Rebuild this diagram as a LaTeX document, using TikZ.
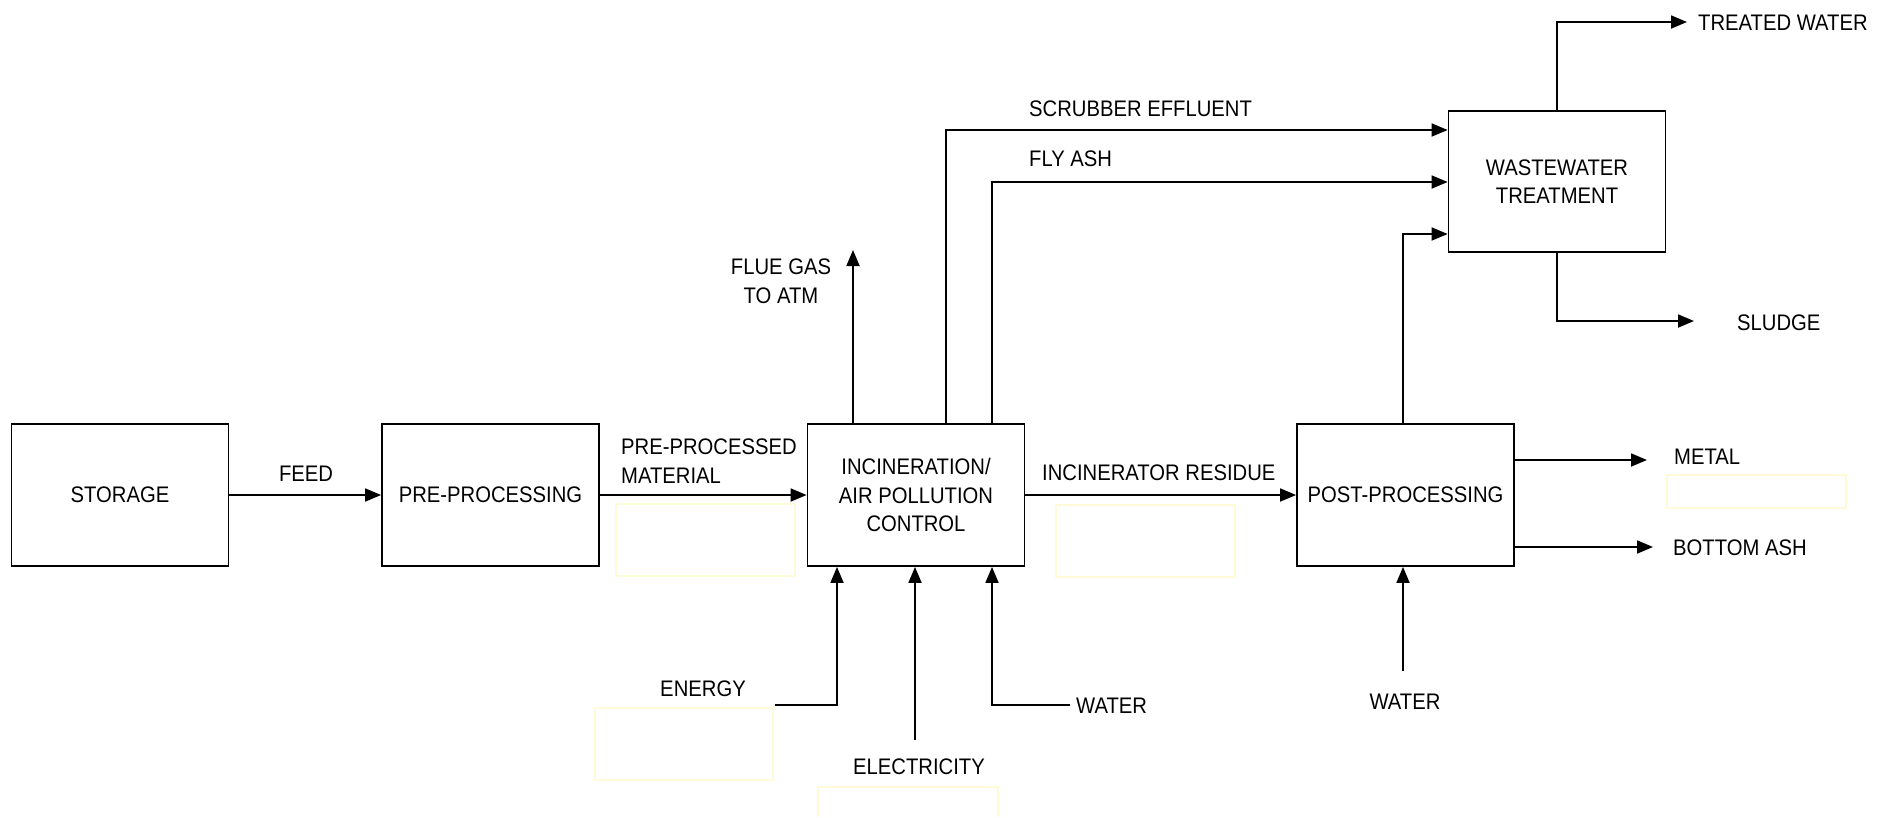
\documentclass[tikz,border=0pt]{standalone}
\usepackage{fontspec}
\setmainfont{Liberation Sans}[FakeStretch=0.9]
\usetikzlibrary{arrows.meta}
\definecolor{ghostyellow}{RGB}{255,250,215}
\tikzset{
  procbox/.style={draw, line width=1.8pt, minimum width=217pt, minimum height=142pt, inner sep=0pt, align=center},
  flow/.style={-{Triangle[length=16pt,width=13pt]}, line width=1.8pt},
  lbl/.style={inner sep=0pt, align=left},
  ghost/.style={draw=ghostyellow, line width=2.2pt}
}
\begin{document}
\begin{tikzpicture}[x=1pt,y=-1pt,font=\fontsize{22.5}{28.5}\selectfont]
\useasboundingbox (0,0) rectangle (1879,817);
% boxes
\node[procbox] (storage) at (120,495) {STORAGE};
\node[procbox] (pre) at (490.5,495) {PRE-PROCESSING};
\node[procbox] (inc) at (916,495) {INCINERATION/\\AIR POLLUTION\\CONTROL};
\node[procbox] (post) at (1405.5,495) {POST-PROCESSING};
\node[procbox, minimum height=141pt] (ww) at (1557,181.5) {WASTEWATER\\TREATMENT};
% free ends
\coordinate (flue) at (853,250);
\coordinate (scx) at (946,130);
\coordinate (fax) at (992,182);
\coordinate (pwx) at (1403,234);
\coordinate (tw) at (1687,22);
\coordinate (sl) at (1694,321);
\coordinate (me) at (1647,460);
\coordinate (ba) at (1653,547);
\coordinate (pw) at (1403,671);
\coordinate (en) at (775,705);
\coordinate (enx) at (837,705);
\coordinate (el) at (915,740);
\coordinate (wa) at (1070,705);
\coordinate (wax) at (992,705);
% connectors
\draw[flow] (storage) -- (pre);
\draw[flow] (pre) -- (inc);
\draw[flow] (inc) -- (post);
\draw[flow] (inc.north -| flue) -- (flue);
\draw[flow] (inc.north -| scx) |- (ww.west |- scx);
\draw[flow] (inc.north -| fax) |- (ww.west |- fax);
\draw[flow] (post.north -| pwx) |- (ww.west |- pwx);
\draw[flow] (ww.north) |- (tw);
\draw[flow] (ww.south) |- (sl);
\draw[flow] (post.east |- me) -- (me);
\draw[flow] (post.east |- ba) -- (ba);
\draw[flow] (pw) -- (post.south -| pw);
\draw[flow] (en) -- (enx) -- (inc.south -| enx);
\draw[flow] (el) -- (inc.south -| el);
\draw[flow] (wa) -- (wax) -- (inc.south -| wax);
% labels
\node[lbl] (lfeed) at (306,474) {FEED};
\node[lbl, anchor=west] (lppm) at (621,461) {PRE-PROCESSED\\MATERIAL};
\node[lbl, anchor=west] (lres) at (1042,473) {INCINERATOR RESIDUE};
\node[lbl, align=center] (lflue) at (781,281) {FLUE GAS\\TO ATM};
\node[lbl, anchor=west] (lscr) at (1029,109) {SCRUBBER EFFLUENT};
\node[lbl, anchor=west] (lfly) at (1029,159) {FLY ASH};
\node[lbl, anchor=west] (ltw) at (1698,23) {TREATED WATER};
\node[lbl, anchor=west] (lsl) at (1737,323) {SLUDGE};
\node[lbl, anchor=west] (lme) at (1674,457) {METAL};
\node[lbl, anchor=west] (lba) at (1673,548) {BOTTOM ASH};
\node[lbl] (lpw) at (1405,702) {WATER};
\node[lbl] (len) at (703,689) {ENERGY};
\node[lbl] (lel) at (919,767) {ELECTRICITY};
\node[lbl, anchor=west] (lwa) at (1076,706) {WATER};
% faint yellow frames
\draw[ghost] (616,504) rectangle (795,576);
\draw[ghost] (1056,505) rectangle (1235,577);
\draw[ghost] (595,708) rectangle (773,780);
\draw[ghost] (818,817) -- (818,787) -- (998,787) -- (998,817);
\draw[ghost] (1667,475) rectangle (1846,508);
\end{tikzpicture}
\end{document}
